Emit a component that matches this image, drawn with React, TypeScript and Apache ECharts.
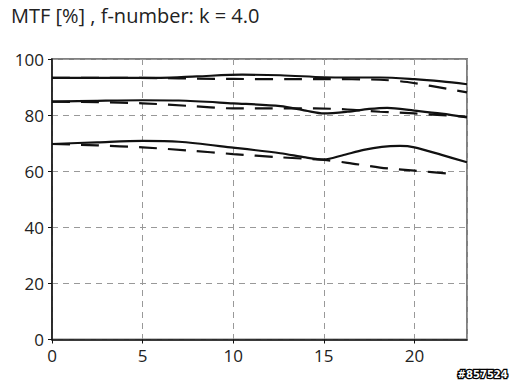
import React, { useEffect, useRef } from "react";
import * as echarts from "echarts";

const titleText = "MTF [%] , f-number: k = 4.0";
const watermark = "#857524";
const xTicks = [0, 5, 10, 15, 20];
const yTicks = [0, 20, 40, 60, 80, 100];

const topSolid: [number, number][] = [
  [0, 93.3], [3, 93.3], [6, 93.3], [8, 93.8], [10.5, 94.4], [12.6, 94.2], [15, 93.5], [16.5, 93.4], [18.1, 93.4], [20, 92.8], [21.5, 92.0], [22.9, 91.0],
];
const topDashed: [number, number][] = [
  [0, 93.3], [3, 93.3], [6, 93.2], [8, 93.0], [10, 92.9], [13.1, 92.8], [15, 92.8], [18.1, 92.6], [19.6, 91.8], [20.9, 90.4], [22.9, 88.1],
];
const midSolid: [number, number][] = [
  [0, 84.8], [2.5, 85.1], [5, 85.3], [7, 85.2], [10, 84.2], [12.6, 83.2], [14, 81.6], [15, 80.6], [16.3, 81.2], [17.5, 82.2], [18.5, 82.6], [20, 81.6], [21.5, 80.5], [22.9, 79.2],
];
const midDashed: [number, number][] = [
  [0, 84.8], [2.5, 84.6], [5, 84.2], [7.5, 83.3], [10, 82.4], [12, 82.4], [14.5, 82.4], [16.3, 82.0], [18.1, 81.2], [20, 80.6], [22.9, 79.4],
];
const lowSolid: [number, number][] = [
  [0, 69.7], [2.5, 70.3], [5, 70.8], [7, 70.5], [10, 68.4], [12.6, 66.4], [14, 64.9], [15, 64.2], [16, 65.6], [17.2, 67.6], [18.2, 68.7], [19.2, 69.0], [20, 68.5], [21.5, 65.8], [22.9, 63.2],
];
const lowDashed: [number, number][] = [
  [0, 69.7], [2.5, 69.2], [5, 68.5], [7.5, 67.4], [10, 66.1], [12.5, 65.0], [15, 64.0], [16.3, 63.0], [18.1, 61.3], [20, 60.2], [22.2, 59.0],
];

export default function App() {
  const ref = useRef<HTMLDivElement>(null);
  useEffect(() => {
    if (!ref.current) return;
    const chart = echarts.init(ref.current, null, { renderer: "svg" });
    const solid = (data: [number, number][]) => ({
      type: "line",
      data,
      smooth: 0.3,
      showSymbol: false,
      lineStyle: { color: "#111", width: 2.2, type: "solid" },
      z: 3,
    });
    const dashed = (data: [number, number][]) => ({
      type: "line",
      data,
      smooth: 0.3,
      showSymbol: false,
      lineStyle: { color: "#111", width: 2.2, type: [18, 11] },
      z: 3,
    });
    chart.setOption({
      animation: false,
      backgroundColor: "#fff",
      textStyle: { fontFamily: "Open Sans" },
      title: {
        text: titleText,
        left: 6,
        top: 0,
        textStyle: { fontFamily: "Open Sans", fontSize: 20, fontWeight: "normal", color: "#222" },
      },
      grid: {
        left: 52,
        right: 45,
        top: 59,
        bottom: 44.5,
        show: true,
        borderColor: "#808080",
        borderWidth: 2,
      },
      xAxis: {
        type: "value",
        min: 0,
        max: 22.9,
        interval: 5,
        axisLine: { show: true, onZero: false, lineStyle: { color: "#111", width: 1.5 } },
        axisTick: { show: true, length: 4, lineStyle: { color: "#111" } },
        axisLabel: {
          color: "#222",
          fontSize: 17,
          margin: 7,
          showMaxLabel: false,
          formatter: (v: number) => (xTicks.includes(v) ? String(v) : ""),
        },
        splitLine: { show: true, lineStyle: { color: "#999", type: [6, 5], width: 1 } },
      },
      yAxis: {
        type: "value",
        min: 0,
        max: 100,
        interval: 20,
        axisLine: { show: true, lineStyle: { color: "#111", width: 1.5 } },
        axisTick: { show: true, length: 4, lineStyle: { color: "#111" } },
        axisLabel: {
          color: "#222",
          fontSize: 17,
          margin: 8,
          formatter: (v: number) => (yTicks.includes(v) ? String(v) : ""),
        },
        splitLine: { show: true, lineStyle: { color: "#999", type: [6, 5], width: 1 } },
      },
      graphic: [
        {
          type: "text",
          right: 3,
          bottom: 3,
          style: {
            text: watermark,
            fontFamily: "DejaVu Sans",
            fontWeight: "bold",
            fontSize: 10,
            fill: "#fff",
            stroke: "#000",
            lineWidth: 2.5,
          },
        },
      ],
      series: [
        solid(topSolid),
        dashed(topDashed),
        solid(midSolid),
        dashed(midDashed),
        solid(lowSolid),
        dashed(lowDashed),
      ],
    });
    return () => chart.dispose();
  }, []);
  return (
    <div
      ref={ref}
      style={{ position: "fixed", left: 0, top: 0, width: 512, height: 384 }}
    />
  );
}
